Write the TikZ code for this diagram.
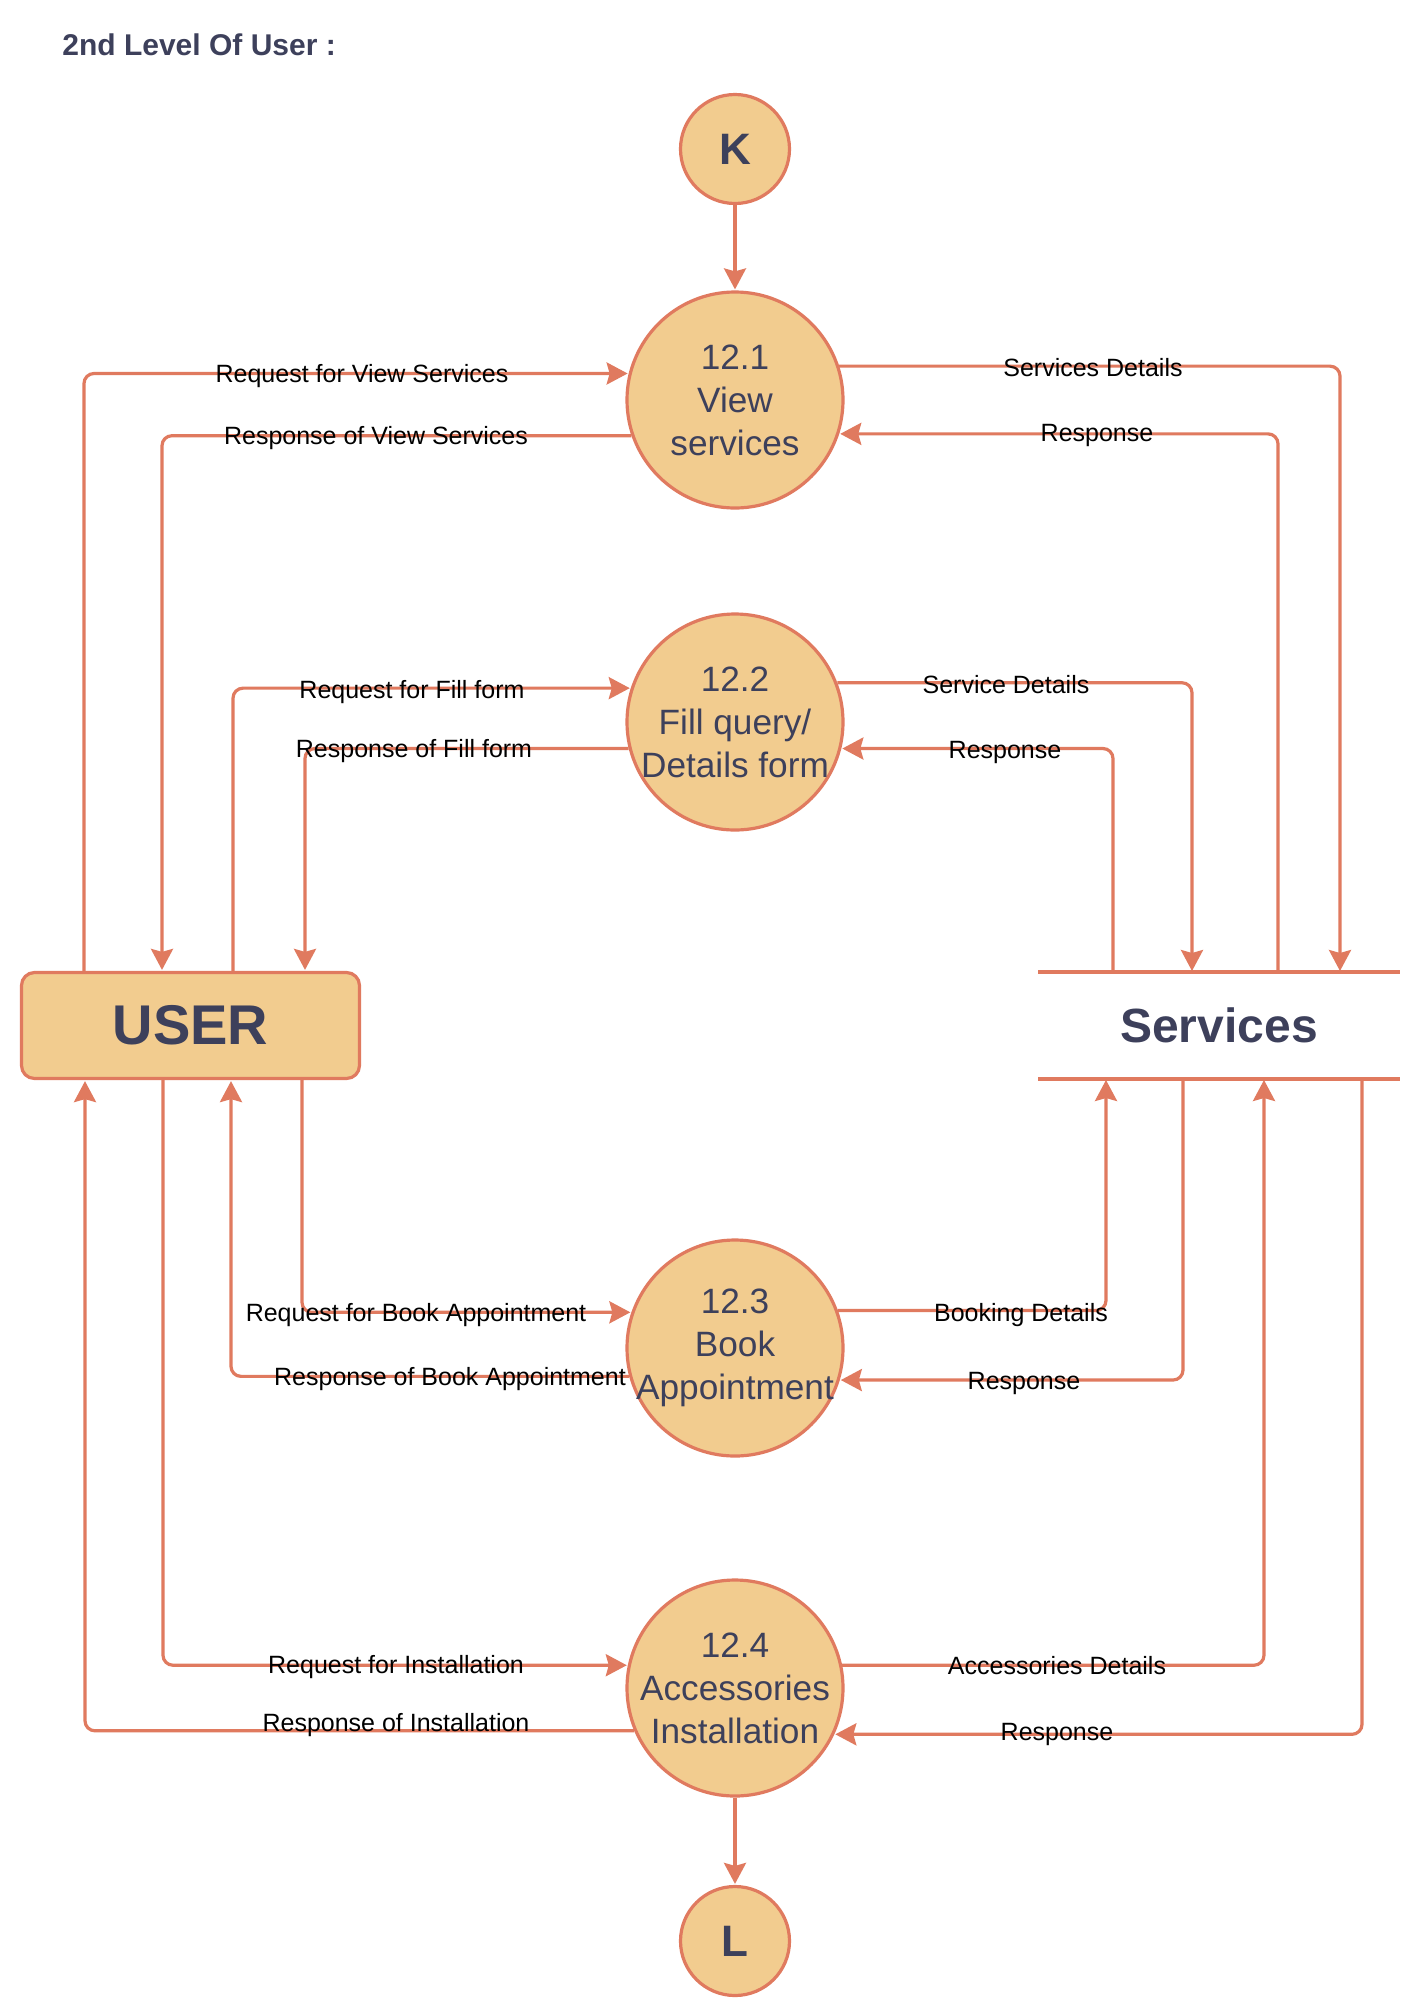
\documentclass[tikz,border=0pt]{standalone}
\usepackage{fontspec}
\setmainfont{Liberation Sans}
\usetikzlibrary{arrows.meta}
\definecolor{lineC}{HTML}{E07A5F}
\definecolor{fillC}{HTML}{F2CC8F}
\definecolor{textC}{HTML}{3D405B}
\begin{document}
\begin{tikzpicture}[x=0.5pt,y=-0.5pt,
 proc/.style={circle,draw=lineC,fill=fillC,line width=1.6pt,minimum size=108pt,inner sep=0pt},
 proctext/.style={align=center,inner sep=0pt,text=textC,font=\fontsize{17.6}{21.5}\selectfont},
 conn/.style={circle,draw=lineC,fill=fillC,line width=1.6pt,minimum size=54.5pt,inner sep=0pt,text=textC,font=\fontsize{22}{26}\selectfont\bfseries},
 flow/.style={draw=lineC,line width=1.6pt,rounded corners=5pt,shorten >=0.5pt,-{Stealth[length=10.5pt,width=11pt,inset=1.5pt]}},
 lbl/.style={anchor=base,font=\fontsize{12.5}{15}\selectfont,text=black,inner sep=0pt}
]
\fill[white] (0,0) rectangle (1417,2014);
\useasboundingbox (0,0) rectangle (1417,2014);

\node[anchor=base west,inner sep=0pt,text=textC,font=\fontsize{15}{18}\selectfont\bfseries] (title) at (62,55) {2nd Level Of User :};

\node[conn] (k) at (735,149) {K};
\node[conn] (l) at (735,1941) {L};
\node[proc] (c1) at (735,400) {};
\node[proc] (c2) at (735,722) {};
\node[proc] (c3) at (735,1348) {};
\node[proc] (c4) at (735,1688) {};
\node[proctext] (t1) at (c1.center) {12.1\\View\\services};
\node[proctext] (t2) at (c2.center) {12.2\\Fill query/\\Details form};
\node[proctext] (t3) at (c3.center) {12.3\\Book\\Appointment};
\node[proctext] (t4) at (c4.center) {12.4\\Accessories\\Installation};

\node[rectangle,rounded corners=6.5pt,draw=lineC,fill=fillC,line width=1.6pt,minimum width=169pt,minimum height=53pt,inner sep=0pt,text=textC,font=\fontsize{28}{32}\selectfont\bfseries] (user) at (190.5,1025.5) {USER};
\node[rectangle,minimum width=181pt,minimum height=53.5pt,inner sep=0pt,outer sep=0pt,text=textC,font=\fontsize{24}{28}\selectfont\bfseries] (serv) at (1219,1025.5) {Services};
\draw[lineC,line width=1.6pt] (serv.north west) -- (serv.north east);
\draw[lineC,line width=1.6pt] (serv.south west) -- (serv.south east);

\draw[flow] (k) -- (c1);
\draw[flow] (c4) -- (l);

\draw[flow] (84,0 |- user.north) |- (c1.166);
\draw[flow] (c1.199) -| (162,0 |- user.north);
\draw[flow] (c1.18) -| (1340,0 |- serv.north);
\draw[flow] (1278,0 |- serv.north) |- (c1.342);

\draw[flow] (233,0 |- user.north) |- (c2.162);
\draw[flow] (c2.194) -| (305,0 |- user.north);
\draw[flow] (c2.21) -| (1192,0 |- serv.north);
\draw[flow] (1113,0 |- serv.north) |- (c2.346);

\draw[flow] (302,0 |- user.south) |- (c3.161);
\draw[flow] (c3.195) -| (231,0 |- user.south);
\draw[flow] (c3.20) -| (1106,0 |- serv.south);
\draw[flow] (1183,0 |- serv.south) |- (c3.343);

\draw[flow] (163,0 |- user.south) |- (c4.168);
\draw[flow] (c4.203) -| (85,0 |- user.south);
\draw[flow] (c4.12) -| (1264,0 |- serv.south);
\draw[flow] (1362,0 |- serv.south) |- (c4.335);

\node[lbl] (l1) at (362,382) {Request for View Services};
\node[lbl] (l2) at (376,444) {Response of View Services};
\node[lbl] (l3) at (1093,376) {Services Details};
\node[lbl] (l4) at (1097,441) {Response};
\node[lbl] (l5) at (412,698) {Request for Fill form};
\node[lbl] (l6) at (414,757) {Response of Fill form};
\node[lbl] (l7) at (1006,693) {Service Details};
\node[lbl] (l8) at (1005,758) {Response};
\node[lbl] (l9) at (416,1321) {Request for Book Appointment};
\node[lbl] (l10) at (450,1385) {Response of Book Appointment};
\node[lbl] (l11) at (1021,1321) {Booking Details};
\node[lbl] (l12) at (1024,1389) {Response};
\node[lbl] (l13) at (396,1673) {Request for Installation};
\node[lbl] (l14) at (396,1731) {Response of Installation};
\node[lbl] (l15) at (1057,1674) {Accessories Details};
\node[lbl] (l16) at (1057,1740) {Response};
\end{tikzpicture}
\end{document}
